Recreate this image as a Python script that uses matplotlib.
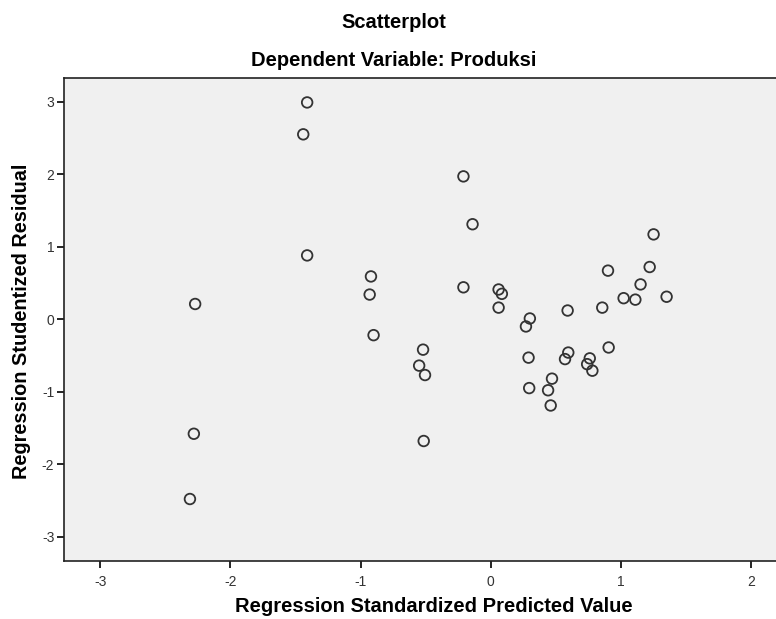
import matplotlib.pyplot as plt

plt.rcParams['font.family'] = ['Liberation Sans', 'DejaVu Sans']
plt.rcParams['axes.unicode_minus'] = False

# standardized predicted value / studentized residual pairs
pred = [-2.27, -2.28, -2.31,
        -1.41, -1.44, -1.41,
        -0.21, -0.14, -0.92, -0.93, -0.21, -0.90,
        0.06, 0.085, 0.06, 0.30, 0.27,
        -0.52, -0.55, -0.505, -0.515,
        1.25, 1.22, 0.90, 1.15, 1.02, 1.11, 1.35, 0.856, 0.59, 0.905,
        0.29, 0.595, 0.57, 0.76, 0.74, 0.78, 0.47, 0.295, 0.44, 0.46]
resid = [0.21, -1.58, -2.48,
         2.99, 2.55, 0.88,
         1.97, 1.31, 0.59, 0.34, 0.44, -0.22,
         0.41, 0.35, 0.16, 0.01, -0.10,
         -0.42, -0.64, -0.77, -1.68,
         1.17, 0.72, 0.67, 0.48, 0.29, 0.27, 0.31, 0.16, 0.12, -0.39,
         -0.53, -0.46, -0.55, -0.54, -0.62, -0.71, -0.82, -0.95, -0.98, -1.19]

xticks = [-3, -2, -1, 0, 1, 2]
yticks = [-3, -2, -1, 0, 1, 2, 3]

fig = plt.figure(figsize=(7.76, 6.19), dpi=100)
ax = fig.add_axes([64 / 776, 58 / 619, 712 / 776, 483 / 619])
ax.set_facecolor('#f0f0f0')

ax.scatter(pred, resid, s=58, facecolors='none', edgecolors='#333333', linewidths=1.3, zorder=3)

ax.set_xlim(-3.277, 2.19)
ax.set_ylim(-3.335, 3.327)
ax.set_xticks(xticks)
ax.set_yticks(yticks)
ax.tick_params(direction='out', length=5, width=1.2, labelsize=10, labelcolor='#333333')
ax.tick_params(axis='x', pad=5)
ax.tick_params(axis='y', pad=2)
ax.spines['right'].set_visible(False)
for s in ['left', 'bottom', 'top']:
    ax.spines[s].set_linewidth(1.2)
    ax.spines[s].set_color('#222222')

fig.text(394 / 776, 1 - 23 / 619, 'Scatterplot', ha='center', va='center', fontsize=14.5, fontweight='bold')
fig.text(394 / 776, 1 - 61 / 619, 'Dependent Variable: Produksi', ha='center', va='center', fontsize=14.5, fontweight='bold')
fig.text(434 / 776, 1 - 607 / 619, 'Regression Standardized Predicted Value', ha='center', va='center', fontsize=14.5, fontweight='bold')
fig.text(22 / 776, 1 - 321 / 619, 'Regression Studentized Residual', ha='center', va='center', rotation=90, fontsize=14.3, fontweight='bold')

fig.savefig('out.png', dpi=100)
